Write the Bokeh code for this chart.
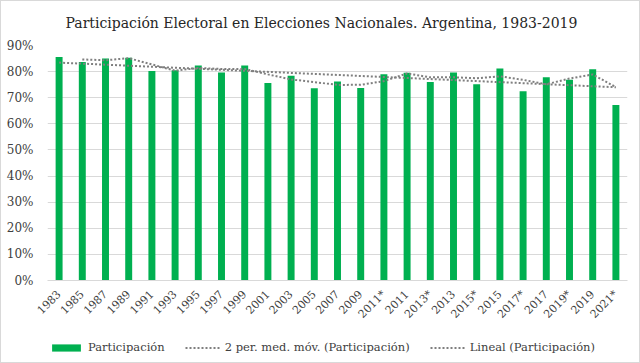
import math
import numpy as np
from bokeh.plotting import figure
from bokeh.layouts import column
from bokeh.models import (ColumnDataSource, Legend, LegendItem, FixedTicker,
                          Range1d)
from bokeh.embed import file_html
from bokeh.resources import INLINE

# Election rounds (asterisk = legislative/midterm-only rounds)
elecciones = ["1983", "1985", "1987", "1989", "1991", "1993", "1995", "1997",
              "1999", "2001", "2003", "2005", "2007", "2009", "2011*", "2011",
              "2013*", "2013", "2015*", "2015", "2017*", "2017", "2019*",
              "2019", "2021*"]
# Turnout, percent of registered voters
participacion = [85.6, 83.7, 85.0, 85.3, 80.2, 80.5, 82.3, 79.7, 82.3, 75.6,
                 78.4, 73.6, 76.2, 73.7, 79.0, 79.6, 76.0, 79.7, 75.2, 81.2,
                 72.5, 77.8, 76.9, 80.9, 67.2]

y_ticks = [0, 10, 20, 30, 40, 50, 60, 70, 80, 90]
y_tick_labels = {t: f"{t}%" for t in y_ticks}

serie_labels = ["Participación", "2 per. med. móv. (Participación)",
                "Lineal (Participación)"]

FONT = "DejaVu Serif"
GREEN = "#00B050"
GREY_LINE = "#7f7f7f"
TEXT = "#404040"
DOTS = "2 2"

# 2-period moving average and least-squares linear trend
vals = np.array(participacion)
media_movil = (vals[1:] + vals[:-1]) / 2.0
idx = np.arange(1, len(vals) + 1)
pend, orde = np.polyfit(idx, vals, 1)
tendencia = pend * idx + orde

src_bar = ColumnDataSource(dict(x=elecciones, y=participacion))
src_mm = ColumnDataSource(dict(x=elecciones[1:], y=list(media_movil)))
src_tr = ColumnDataSource(dict(x=[elecciones[0], elecciones[-1]],
                               y=[tendencia[0], tendencia[-1]]))

p = figure(x_range=elecciones, y_range=Range1d(0, 90),
           width=638, height=330, output_backend="svg",
           toolbar_location=None,
           min_border_left=46, min_border_right=12,
           min_border_top=44, min_border_bottom=51)
p.x_range.range_padding = 0
p.outline_line_color = None
p.background_fill_color = "white"
p.border_fill_color = "white"

p.vbar(x="x", top="y", width=0.3, source=src_bar,
       fill_color=GREEN, line_color=None)
p.line(x="x", y="y", source=src_mm, line_color=GREY_LINE,
       line_width=2, line_dash=DOTS)
p.line(x="x", y="y", source=src_tr, line_color=GREY_LINE,
       line_width=2, line_dash=DOTS)

# Title
p.title.text = "Participación  Electoral en Elecciones Nacionales.  Argentina, 1983-2019"
p.title.align = "left"
p.title.offset = 18
p.title.vertical_align = "top"
p.title.text_font = FONT
p.title.text_font_style = "normal"
p.title.text_font_size = "14px"
p.title.text_color = "#262626"
p.title.standoff = 25

# Axes
xa = p.xaxis[0]
xa.major_label_orientation = math.pi / 4
xa.major_label_text_font = FONT
xa.major_label_text_font_size = "11px"
xa.major_label_text_color = TEXT
xa.axis_line_color = "#d9d9d9"
xa.major_tick_line_color = None
xa.minor_tick_line_color = None
xa.major_label_standoff = 6

ya = p.yaxis[0]
ya.ticker = FixedTicker(ticks=y_ticks)
ya.major_label_overrides = y_tick_labels
ya.major_label_text_font = FONT
ya.major_label_text_font_size = "12px"
ya.major_label_text_color = TEXT
ya.axis_line_color = None
ya.major_tick_line_color = None
ya.minor_tick_line_color = None
ya.major_label_standoff = 8

p.xgrid.grid_line_color = None
p.ygrid.grid_line_color = "#d9d9d9"
p.ygrid.ticker = FixedTicker(ticks=y_ticks)

# Legend strip under the chart; its proxy glyphs sit outside the visible
# range so only their legend swatches show.
lg = figure(width=638, height=31, output_backend="svg", toolbar_location=None,
            x_range=Range1d(0, 1), y_range=Range1d(0, 1),
            min_border=0, min_border_left=46, min_border_right=12)
lg.axis.visible = False
lg.grid.visible = False
lg.outline_line_color = None
lg.border_fill_color = "white"
r_bar = lg.vbar(x=[-5], top=[-5], width=0.3, fill_color=GREEN, line_color=None)
r_mm = lg.line(x=[-5, -4], y=[-5, -5], line_color=GREY_LINE, line_width=2,
               line_dash=DOTS)
r_tr = lg.line(x=[-5, -4], y=[-5, -5], line_color=GREY_LINE, line_width=2,
               line_dash=DOTS)

legend = Legend(items=[
    LegendItem(label=serie_labels[0], renderers=[r_bar]),
    LegendItem(label=serie_labels[1], renderers=[r_mm]),
    LegendItem(label=serie_labels[2], renderers=[r_tr]),
], orientation="horizontal", location=(1, 8))
legend.label_text_font = FONT
legend.label_text_font_size = "11.5px"
legend.label_text_color = TEXT
legend.border_line_color = None
legend.background_fill_alpha = 0
legend.glyph_width = 36
legend.glyph_height = 9
legend.spacing = 20
legend.padding = 0
legend.margin = 0
legend.label_standoff = 4
lg.add_layout(legend, "center")

layout = column(p, lg, spacing=0)
layout.styles = {"border": "1px solid #d9d9d9"}

open("out.html", "w").write(file_html(layout, INLINE))
